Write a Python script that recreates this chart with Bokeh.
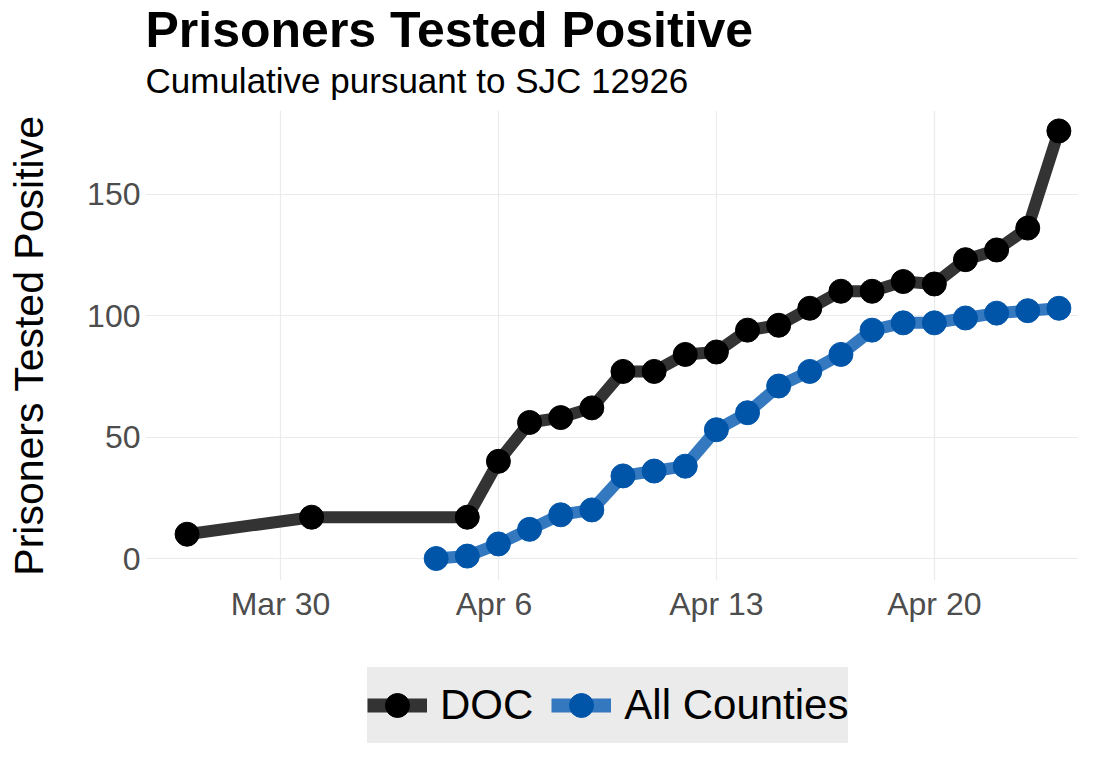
import pandas as pd
from bokeh.plotting import figure
from bokeh.layouts import column
from bokeh.models import (ColumnDataSource, FixedTicker, Legend, LegendItem, Title, Range1d)
from bokeh.embed import file_html
from bokeh.resources import INLINE

# ---- data ----
doc_dates = ["2020-03-27", "2020-03-31", "2020-04-05", "2020-04-06", "2020-04-07", "2020-04-08",
             "2020-04-09", "2020-04-10", "2020-04-11", "2020-04-12", "2020-04-13", "2020-04-14",
             "2020-04-15", "2020-04-16", "2020-04-17", "2020-04-18", "2020-04-19", "2020-04-20",
             "2020-04-21", "2020-04-22", "2020-04-23", "2020-04-24"]
doc_values = [10, 17, 17, 40, 56, 58, 62, 77, 77, 84, 85, 94, 96, 103, 110, 110, 114, 113,
              123, 127, 136, 176]

county_dates = ["2020-04-04", "2020-04-05", "2020-04-06", "2020-04-07", "2020-04-08", "2020-04-09",
                "2020-04-10", "2020-04-11", "2020-04-12", "2020-04-13", "2020-04-14", "2020-04-15",
                "2020-04-16", "2020-04-17", "2020-04-18", "2020-04-19", "2020-04-20", "2020-04-21",
                "2020-04-22", "2020-04-23", "2020-04-24"]
county_values = [0, 1, 6, 12, 18, 20, 34, 36, 38, 53, 60, 71, 77, 84, 94, 97, 97, 99, 101, 102, 103]

x_tick_dates = ["2020-03-30", "2020-04-06", "2020-04-13", "2020-04-20"]
x_tick_labels = ["Mar 30", "Apr  6", "Apr 13", "Apr 20"]
y_ticks = [0, 50, 100, 150]

series_names = ["DOC", "All Counties"]
title_text = "Prisoners Tested Positive"
subtitle_text = "Cumulative pursuant to SJC 12926"
y_label = "Prisoners Tested Positive"

FONT = "Liberation Sans"
DOC_LINE, DOC_PT = "#333333", "black"
CTY_LINE, CTY_PT = "#3478c0", "#0055a8"

doc_src = ColumnDataSource(dict(x=pd.to_datetime(doc_dates), y=doc_values))
cty_src = ColumnDataSource(dict(x=pd.to_datetime(county_dates), y=county_values))

day = 86400000.0
ref = pd.Timestamp("2020-03-30").value / 1e6
x_range = Range1d(ref - 4.335 * day, ref + 25.63 * day)
y_range = Range1d(-9.05, 184.4)

MAIN_H = 640
p = figure(width=1078, height=MAIN_H, x_axis_type="datetime", x_range=x_range, y_range=y_range,
           output_backend="svg", toolbar_location=None,
           min_border_left=145, min_border_right=0, min_border_top=110,
           min_border_bottom=MAIN_H - 580)
p.outline_line_color = None
p.background_fill_color = "white"

# title (outermost) and subtitle (closest to the frame)
p.title.text = title_text
p.title.align = "left"
p.title.text_font = FONT
p.title.text_font_size = "50px"
p.title.text_font_style = "bold"
p.title.text_color = "black"
p.title.standoff = -18
p.add_layout(Title(text=subtitle_text, align="left", text_font=FONT, text_font_size="35px",
                   text_font_style="normal", text_color="black", standoff=21), "above")

# grids
p.xgrid.grid_line_color = "#ebebeb"
p.ygrid.grid_line_color = "#ebebeb"
p.xgrid.grid_line_width = 1.2
p.ygrid.grid_line_width = 1.2

# axes
tick_ms = [pd.Timestamp(d).value / 1e6 for d in x_tick_dates]
p.xaxis.ticker = FixedTicker(ticks=tick_ms)
p.xaxis.major_label_overrides = {t: l for t, l in zip(tick_ms, x_tick_labels)}
p.yaxis.ticker = FixedTicker(ticks=y_ticks)
for ax in (p.xaxis[0], p.yaxis[0]):
    ax.axis_line_color = None
    ax.major_tick_line_color = None
    ax.minor_tick_line_color = None
    ax.major_tick_out = 0
    ax.major_tick_in = 0
    ax.minor_tick_out = 0
    ax.minor_tick_in = 0
    ax.major_label_text_font = FONT
    ax.major_label_text_font_size = "32px"
    ax.major_label_text_color = "#4d4d4d"
p.xaxis.major_label_standoff = 5
p.yaxis.major_label_standoff = 5
p.yaxis.axis_label = y_label
p.yaxis.axis_label_text_font = FONT
p.yaxis.axis_label_text_font_size = "41px"
p.yaxis.axis_label_text_font_style = "normal"
p.yaxis.axis_label_text_color = "black"
p.yaxis.axis_label_standoff = 32

# series
p.line("x", "y", source=doc_src, line_color=DOC_LINE, line_width=12)
p.scatter("x", "y", source=doc_src, size=24, fill_color=DOC_PT, line_color=DOC_PT)
p.line("x", "y", source=cty_src, line_color=CTY_LINE, line_width=12)
p.scatter("x", "y", source=cty_src, size=24, fill_color=CTY_PT, line_color=CTY_PT)

# legend strip (separate figure so it is not clipped by the plot frame;
# the column aligns its frame with the main plot's frame, which starts at x=145)
LEG_H = 743 - MAIN_H
lg = figure(width=1078, height=LEG_H, x_range=(0, 1), y_range=(0, 1),
            x_axis_location=None, y_axis_location=None,
            output_backend="svg", toolbar_location=None,
            min_border_left=0, min_border_right=0, min_border_top=0, min_border_bottom=0)
lg.grid.visible = False
lg.outline_line_color = None
off = dict(x=[-10], y=[-10])  # key glyph sources, outside the visible range
l1 = lg.line("x", "y", source=ColumnDataSource(off), line_color=DOC_LINE, line_width=14)
s1 = lg.scatter("x", "y", source=ColumnDataSource(off), size=28, fill_color=DOC_PT, line_color=DOC_PT)
l2 = lg.line("x", "y", source=ColumnDataSource(off), line_color=CTY_LINE, line_width=14)
s2 = lg.scatter("x", "y", source=ColumnDataSource(off), size=28, fill_color=CTY_PT, line_color=CTY_PT)
legend = Legend(items=[LegendItem(label=series_names[0], renderers=[l1, s1]),
                       LegendItem(label=series_names[1], renderers=[l2, s2])],
                location=(222, 0), orientation="horizontal",
                background_fill_color="#ebebeb", background_fill_alpha=1.0,
                border_line_color=None, label_text_font=FONT, label_text_font_size="42px",
                label_text_color="black", glyph_width=60, glyph_height=76, label_height=76,
                label_standoff=13, spacing=18, padding=8, margin=0)
lg.add_layout(legend)

open("out.html", "w").write(file_html(column(p, lg, spacing=0), INLINE))
